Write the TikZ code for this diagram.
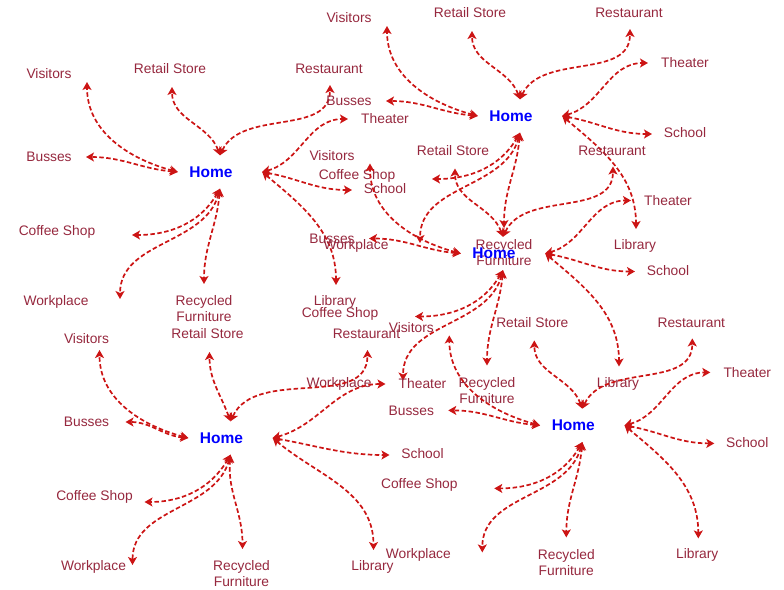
\documentclass[tikz,border=0pt]{standalone}
\usepackage{fontspec}
\setmainfont{Liberation Sans}
\usepackage{tikz}
\usetikzlibrary{arrows.meta}

\definecolor{linkred}{RGB}{204,20,20}
\definecolor{placered}{RGB}{150,40,62}
\definecolor{homeblue}{RGB}{0,0,255}

\tikzset{
  home/.style  = {font = \fontsize{15.5}{18}\selectfont\bfseries, text = homeblue,
                  minimum width = 84pt, minimum height = 33pt, inner sep = 0pt},
  place/.style = {font = \fontsize{13.8}{16}\selectfont, text = placered,
                  align = center, inner sep = 0pt},
  link/.style  = {draw = linkred, line width = 1.7pt, dash pattern = on 4.5pt off 2.5pt,
                  {Stealth[length=8pt,width=9pt,inset=2pt]}-{Stealth[length=8pt,width=9pt,inset=2pt]}}
}

\begin{document}
\begin{tikzpicture}[x = 1pt, y = 1pt]

  \useasboundingbox (0,0) rectangle (784,-589);

  % Home, top left
  \begin{scope}[shift={(0,0)}]

    \node[home] (homeA) at (220,-172) {Home\hspace*{18pt}};

    \node[place] (visA)  at ( 49, -74) {Visitors};               \coordinate (visAend)  at ( 87, -82);
    \node[place] (retA)  at (170, -69) {Retail Store};           \coordinate (retAend)  at (172, -87);
    \node[place] (resA)  at (329, -69) {Restaurant};             \coordinate (resAend)  at (330, -85);
    \node[place] (busA)  at ( 49,-157) {Busses};                 \coordinate (busAend)  at ( 86,-157);
    \node[place] (theA)  at (385,-119) {Theater};                \coordinate (theAend)  at (348,-119);
    \node[place] (schA)  at (385,-189) {School};                 \coordinate (schAend)  at (352,-190);
    \node[place] (libA)  at (335,-302) {Library};                \coordinate (libAend)  at (336,-285);
    \node[place] (cofA)  at ( 57,-232) {Coffee Shop};            \coordinate (cofAend)  at (132,-235);
    \node[place] (worA)  at ( 56,-302) {Workplace};              \coordinate (worAend)  at (120,-299);
    \node[place] (recA)  at (204,-309) {Recycled\\Furniture};    \coordinate (recAend)  at (204,-284);

    \draw[link] (homeA.west)  to[out=165, in=-90] (visAend);
    \draw[link] (homeA.west)  to[out=175, in=0]   (busAend);
    \draw[link] (homeA.north) to[out=110, in=-90] (retAend);
    \draw[link] (homeA.north) to[out=65,  in=-90] (resAend);
    \draw[link] (homeA.east)  to[out=15,  in=180] (theAend);
    \draw[link] (homeA.east)  to[out=-10, in=180] (schAend);
    \draw[link] (homeA.east)  to[out=-40, in=90]  (libAend);
    \draw[link] (homeA.south) to[out=-120,in=0]   (cofAend);
    \draw[link] (homeA.south) to[out=-105,in=90]  (worAend);
    \draw[link] (homeA.south) to[out=-95, in=90]  (recAend);

  \end{scope} % Home, top left

  % Home, top right
  \begin{scope}[shift={(300,56)}]

    \node[home] (homeB) at (220,-172) {Home\hspace*{18pt}};

    \node[place] (visB)  at ( 49, -74) {Visitors};               \coordinate (visBend)  at ( 87, -82);
    \node[place] (retB)  at (170, -69) {Retail Store};           \coordinate (retBend)  at (172, -87);
    \node[place] (resB)  at (329, -69) {Restaurant};             \coordinate (resBend)  at (330, -85);
    \node[place] (busB)  at ( 49,-157) {Busses};                 \coordinate (busBend)  at ( 86,-157);
    \node[place] (theB)  at (385,-119) {Theater};                \coordinate (theBend)  at (348,-119);
    \node[place] (schB)  at (385,-189) {School};                 \coordinate (schBend)  at (352,-190);
    \node[place] (libB)  at (335,-302) {Library};                \coordinate (libBend)  at (336,-285);
    \node[place] (cofB)  at ( 57,-232) {Coffee Shop};            \coordinate (cofBend)  at (132,-235);
    \node[place] (worB)  at ( 56,-302) {Workplace};              \coordinate (worBend)  at (120,-299);
    \node[place] (recB)  at (204,-309) {Recycled\\Furniture};    \coordinate (recBend)  at (204,-284);

    \draw[link] (homeB.west)  to[out=165, in=-90] (visBend);
    \draw[link] (homeB.west)  to[out=175, in=0]   (busBend);
    \draw[link] (homeB.north) to[out=110, in=-90] (retBend);
    \draw[link] (homeB.north) to[out=65,  in=-90] (resBend);
    \draw[link] (homeB.east)  to[out=15,  in=180] (theBend);
    \draw[link] (homeB.east)  to[out=-10, in=180] (schBend);
    \draw[link] (homeB.east)  to[out=-40, in=90]  (libBend);
    \draw[link] (homeB.south) to[out=-120,in=0]   (cofBend);
    \draw[link] (homeB.south) to[out=-105,in=90]  (worBend);
    \draw[link] (homeB.south) to[out=-95, in=90]  (recBend);

  \end{scope} % Home, top right

  % Home, middle
  \begin{scope}[shift={(283,-81.5)}]

    \node[home] (homeC) at (220,-172) {Home\hspace*{18pt}};

    \node[place] (visC)  at ( 49, -74) {Visitors};               \coordinate (visCend)  at ( 87, -82);
    \node[place] (retC)  at (170, -69) {Retail Store};           \coordinate (retCend)  at (172, -87);
    \node[place] (resC)  at (329, -69) {Restaurant};             \coordinate (resCend)  at (330, -85);
    \node[place] (busC)  at ( 49,-157) {Busses};                 \coordinate (busCend)  at ( 86,-157);
    \node[place] (theC)  at (385,-119) {Theater};                \coordinate (theCend)  at (348,-119);
    \node[place] (schC)  at (385,-189) {School};                 \coordinate (schCend)  at (352,-190);
    \node[place] (libC)  at (335,-302) {Library};                \coordinate (libCend)  at (336,-285);
    \node[place] (cofC)  at ( 57,-232) {Coffee Shop};            \coordinate (cofCend)  at (132,-235);
    \node[place] (worC)  at ( 56,-302) {Workplace};              \coordinate (worCend)  at (120,-299);
    \node[place] (recC)  at (204,-309) {Recycled\\Furniture};    \coordinate (recCend)  at (204,-284);

    \draw[link] (homeC.west)  to[out=165, in=-90] (visCend);
    \draw[link] (homeC.west)  to[out=175, in=0]   (busCend);
    \draw[link] (homeC.north) to[out=110, in=-90] (retCend);
    \draw[link] (homeC.north) to[out=65,  in=-90] (resCend);
    \draw[link] (homeC.east)  to[out=15,  in=180] (theCend);
    \draw[link] (homeC.east)  to[out=-10, in=180] (schCend);
    \draw[link] (homeC.east)  to[out=-40, in=90]  (libCend);
    \draw[link] (homeC.south) to[out=-120,in=0]   (cofCend);
    \draw[link] (homeC.south) to[out=-105,in=90]  (worCend);
    \draw[link] (homeC.south) to[out=-95, in=90]  (recCend);

  \end{scope} % Home, middle

  % Home, bottom left
  \begin{scope}[shift={(37.5,-265)}]

    \node[home] (homeD) at (193,-173) {Home\hspace*{18pt}};

    \node[place] (visD)  at ( 49, -74) {Visitors};               \coordinate (visDend)  at ( 62, -85);
    \node[place] (retD)  at (170, -69) {Retail Store};           \coordinate (retDend)  at (172, -87);
    \node[place] (resD)  at (329, -69) {Restaurant};             \coordinate (resDend)  at (330, -85);
    \node[place] (busD)  at ( 49,-157) {Busses};                 \coordinate (busDend)  at ( 88,-157);
    \node[place] (theD)  at (385,-119) {Theater};                \coordinate (theDend)  at (348,-119);
    \node[place] (schD)  at (385,-189) {School};                 \coordinate (schDend)  at (352,-190);
    \node[place] (libD)  at (335,-302) {Library};                \coordinate (libDend)  at (336,-285);
    \node[place] (cofD)  at ( 57,-232) {Coffee Shop};            \coordinate (cofDend)  at (107,-237);
    \node[place] (worD)  at ( 56,-302) {Workplace};              \coordinate (worDend)  at ( 95,-300);
    \node[place] (recD)  at (204,-309) {Recycled\\Furniture};    \coordinate (recDend)  at (205,-284);

    \draw[link] (homeD.west)  to[out=165, in=-90] (visDend);
    \draw[link] (homeD.west)  to[out=175, in=0]   (busDend);
    \draw[link] (homeD.north) to[out=110, in=-90] (retDend);
    \draw[link] (homeD.north) to[out=65,  in=-90] (resDend);
    \draw[link] (homeD.east)  to[out=15,  in=180] (theDend);
    \draw[link] (homeD.east)  to[out=-10, in=180] (schDend);
    \draw[link] (homeD.east)  to[out=-40, in=90]  (libDend);
    \draw[link] (homeD.south) to[out=-120,in=0]   (cofDend);
    \draw[link] (homeD.south) to[out=-105,in=90]  (worDend);
    \draw[link] (homeD.south) to[out=-95, in=90]  (recDend);

  \end{scope} % Home, bottom left

  % Home, bottom right
  \begin{scope}[shift={(362.3,-253.4)}]

    \node[home] (homeE) at (220,-172) {Home\hspace*{18pt}};

    \node[place] (visE)  at ( 49, -74) {Visitors};               \coordinate (visEend)  at ( 87, -82);
    \node[place] (retE)  at (170, -69) {Retail Store};           \coordinate (retEend)  at (172, -87);
    \node[place] (resE)  at (329, -69) {Restaurant};             \coordinate (resEend)  at (330, -85);
    \node[place] (busE)  at ( 49,-157) {Busses};                 \coordinate (busEend)  at ( 86,-157);
    \node[place] (theE)  at (385,-119) {Theater};                \coordinate (theEend)  at (348,-119);
    \node[place] (schE)  at (385,-189) {School};                 \coordinate (schEend)  at (352,-190);
    \node[place] (libE)  at (335,-302) {Library};                \coordinate (libEend)  at (336,-285);
    \node[place] (cofE)  at ( 57,-232) {Coffee Shop};            \coordinate (cofEend)  at (132,-235);
    \node[place] (worE)  at ( 56,-302) {Workplace};              \coordinate (worEend)  at (120,-299);
    \node[place] (recE)  at (204,-309) {Recycled\\Furniture};    \coordinate (recEend)  at (204,-284);

    \draw[link] (homeE.west)  to[out=165, in=-90] (visEend);
    \draw[link] (homeE.west)  to[out=175, in=0]   (busEend);
    \draw[link] (homeE.north) to[out=110, in=-90] (retEend);
    \draw[link] (homeE.north) to[out=65,  in=-90] (resEend);
    \draw[link] (homeE.east)  to[out=15,  in=180] (theEend);
    \draw[link] (homeE.east)  to[out=-10, in=180] (schEend);
    \draw[link] (homeE.east)  to[out=-40, in=90]  (libEend);
    \draw[link] (homeE.south) to[out=-120,in=0]   (cofEend);
    \draw[link] (homeE.south) to[out=-105,in=90]  (worEend);
    \draw[link] (homeE.south) to[out=-95, in=90]  (recEend);

  \end{scope} % Home, bottom right

\end{tikzpicture}
\end{document}
